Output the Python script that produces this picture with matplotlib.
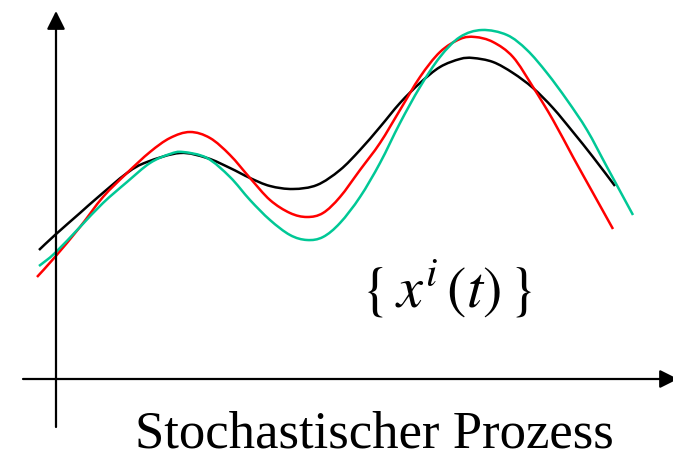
import numpy as np
import matplotlib
matplotlib.use("Agg")
import matplotlib.pyplot as plt
from matplotlib.path import Path
from matplotlib.patches import PathPatch

plt.rcParams['mathtext.fontset'] = 'stix'

# sample functions x^i(t) (t, value)
t_black = [-0.17, -0.01, 0.24, 0.41, 0.71, 0.91, 1.24, 1.51, 1.74, 1.94, 2.14, 2.37, 2.61, 2.84,
           3.04, 3.24, 3.44, 3.64, 3.84, 4.04, 4.17, 4.37, 4.57, 4.77, 4.97, 5.17, 5.37, 5.59]
x_black = [1.29, 1.44, 1.66, 1.81, 2.06, 2.17, 2.26, 2.21, 2.11, 2.01, 1.93, 1.90, 1.94, 2.09,
           2.29, 2.52, 2.76, 2.96, 3.12, 3.20, 3.21, 3.17, 3.06, 2.91, 2.71, 2.47, 2.22, 1.93]

t_red = [-0.19, -0.01, 0.24, 0.47, 0.71, 0.94, 1.14, 1.34, 1.54, 1.74, 1.94, 2.14, 2.34, 2.51, 2.67,
         2.84, 3.04, 3.24, 3.44, 3.64, 3.84, 4.04, 4.19, 4.37, 4.57, 4.77, 4.97, 5.17, 5.37, 5.57]
x_red = [1.02, 1.22, 1.52, 1.82, 2.06, 2.27, 2.41, 2.47, 2.41, 2.24, 2.01, 1.79, 1.66, 1.62, 1.66,
         1.82, 2.09, 2.36, 2.69, 3.02, 3.27, 3.40, 3.42, 3.37, 3.22, 2.92, 2.59, 2.22, 1.86, 1.50]

t_green = [-0.17, -0.01, 0.24, 0.47, 0.71, 0.94, 1.14, 1.27, 1.51, 1.74, 1.94, 2.14, 2.34, 2.51, 2.67,
           2.84, 3.04, 3.24, 3.44, 3.64, 3.84, 4.04, 4.26, 4.51, 4.71, 4.91, 5.11, 5.31, 5.51, 5.77]
x_green = [1.13, 1.26, 1.52, 1.76, 1.97, 2.16, 2.25, 2.27, 2.21, 2.02, 1.79, 1.59, 1.44, 1.39, 1.42,
           1.56, 1.82, 2.16, 2.56, 2.92, 3.22, 3.42, 3.49, 3.44, 3.29, 3.06, 2.79, 2.49, 2.12, 1.64]

colors = {'black': '#000000', 'red': '#FF0000', 'green': '#00C896'}

label_text = "Stochastischer Prozess"
formula_text = r'$\{\,x^{i}\,(t)\,\}$'

W, H = 673, 458
fig = plt.figure(figsize=(W / 100, H / 100), dpi=100)
ax = fig.add_axes([0, 0, 1, 1])
ax.set_xlim(-0.56, 6.17)
ax.set_ylim(-0.79, 3.79)
ax.axis('off')


def smooth_path(ts, xs):
    p = np.column_stack([ts, xs])
    n = len(p)
    verts = [p[0]]
    codes = [Path.MOVETO]
    for i in range(n - 1):
        p0 = p[i - 1] if i > 0 else p[i]
        p1 = p[i]
        p2 = p[i + 1]
        p3 = p[i + 2] if i + 2 < n else p[i + 1]
        c1 = p1 + (p2 - p0) / 6.0
        c2 = p2 - (p3 - p1) / 6.0
        verts += [c1, c2, p2]
        codes += [Path.CURVE4] * 3
    return Path(verts, codes)


for ts, xs, c in [(t_black, x_black, colors['black']),
                  (t_red, x_red, colors['red']),
                  (t_green, x_green, colors['green'])]:
    ax.add_patch(PathPatch(smooth_path(ts, xs), facecolor='none', edgecolor=c,
                           lw=1.8, capstyle='butt'))

arrow = dict(arrowstyle='-|>,head_length=1.1,head_width=0.55', color='black',
             lw=1.6, shrinkA=0, shrinkB=0, mutation_scale=10)
ax.annotate('', xy=(0, 3.68), xytext=(0, -0.48), arrowprops=arrow)
ax.annotate('', xy=(6.22, 0.0), xytext=(-0.33, 0.0), arrowprops=arrow,
            annotation_clip=False)

ax.text(0.79, -0.69, label_text, family='Liberation Serif', fontsize=38,
        ha='left', va='baseline')
ax.text(3.05, 0.72, formula_text, fontsize=42, ha='left', va='baseline')

fig.savefig('out.png', dpi=100)
